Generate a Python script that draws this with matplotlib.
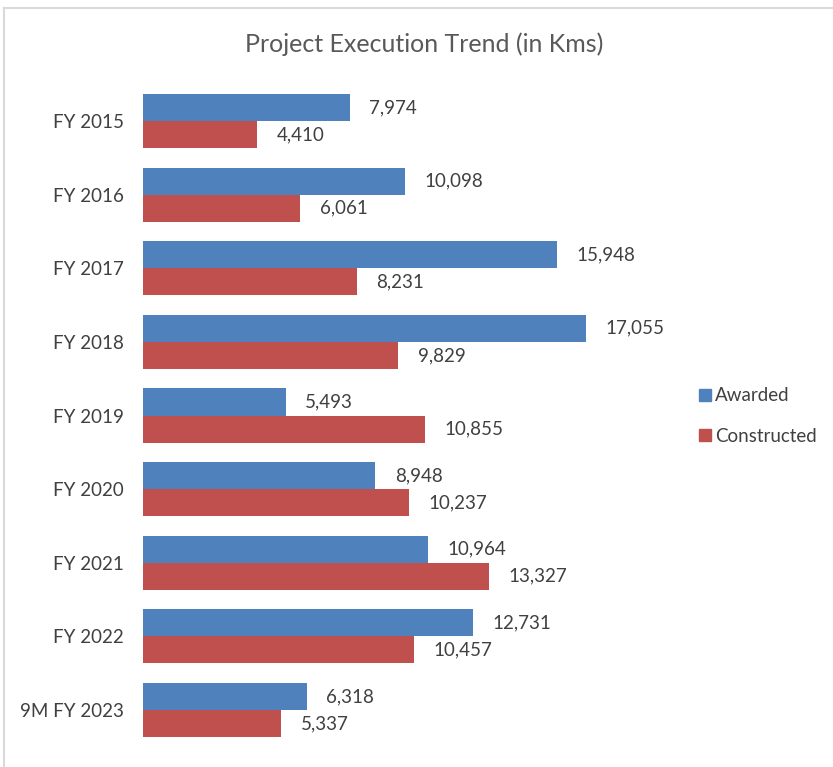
import matplotlib.pyplot as plt
from matplotlib.lines import Line2D
import numpy as np

# Data
categories = ['FY 2015', 'FY 2016', 'FY 2017', 'FY 2018', 'FY 2019',
              'FY 2020', 'FY 2021', 'FY 2022', '9M FY 2023']
awarded = [7974, 10098, 15948, 17055, 5493, 8948, 10964, 12731, 6318]
constructed = [4410, 6061, 8231, 9829, 10855, 10237, 13327, 10457, 5337]

BLUE = '#4F81BD'
RED = '#C0504D'
TEXT = '#404040'

plt.rcParams['font.family'] = ['Lato', 'DejaVu Sans']

fig = plt.figure(figsize=(8.33, 7.67), dpi=100)
ax = fig.add_axes([143 / 833, 1 - 746.8 / 767, (662 - 143) / 833, (746.8 - 84.2) / 767])

y = np.arange(len(categories))
h = 0.367
b1 = ax.barh(y - h / 2, awarded, height=h, color=BLUE, label='Awarded')
b2 = ax.barh(y + h / 2, constructed, height=h, color=RED, label='Constructed')

for bars, vals in ((b1, awarded), (b2, constructed)):
    for bar, v in zip(bars, vals):
        ax.annotate(f'{v:,}', (bar.get_width(), bar.get_y() + bar.get_height() / 2),
                    xytext=(14, 0), textcoords='offset points',
                    va='center', ha='left', fontsize=13.5, color=TEXT)

ax.set_ylim(len(categories) - 0.5, -0.5)
ax.set_xlim(0, 20000)
ax.set_yticks(y)
ax.set_yticklabels(categories, fontsize=13.5, color=TEXT)
ax.set_xticks([])
ax.tick_params(axis='y', length=0, pad=14)
for s in ax.spines.values():
    s.set_visible(False)

fig.text(424 / 833, 1 - 44 / 767, 'Project Execution Trend (in Kms)',
         ha='center', va='center', fontsize=18, color='#595959')

handles = [Line2D([], [], marker='s', linestyle='none', markersize=9,
                  markerfacecolor=c, markeredgecolor=c) for c in (BLUE, RED)]
fig.legend(handles, ['Awarded', 'Constructed'], loc='center left',
           bbox_to_anchor=(679 / 833, 1 - 416 / 767), frameon=False,
           fontsize=13.5, labelcolor=TEXT, handletextpad=0.0,
           handlelength=1.0, labelspacing=1.25)

# light grey chart-area border (top and left edges visible)
fig.add_artist(Line2D([4 / 833, 1], [1 - 8 / 767, 1 - 8 / 767], color='#D9D9D9', lw=1.5))
fig.add_artist(Line2D([4 / 833, 4 / 833], [0, 1 - 8 / 767], color='#D9D9D9', lw=1.5))

fig.savefig('out.png', dpi=100)
